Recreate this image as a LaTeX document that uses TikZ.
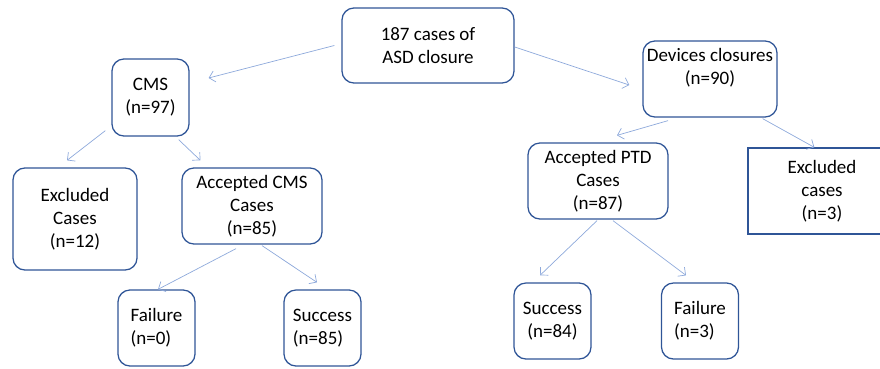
\documentclass[tikz,border=0pt]{standalone}
\usepackage{fontspec}
\setmainfont{Carlito}
\usetikzlibrary{arrows.meta,calc}
\definecolor{boxblue}{HTML}{2F5597}
\definecolor{linkblue}{HTML}{8EA9DB}
\tikzset{
  box/.style={draw=boxblue, line width=0.9pt, rounded corners=0.3cm, align=center,
    inner sep=1pt, font=\fontsize{13.5}{16.5}\selectfont},
  sqbox/.style={box, rounded corners=0pt},
  leaf/.style={box, align=left, minimum width=1.925cm, minimum height=1.9cm},
  link/.style={draw=linkblue, line width=0.5pt, -{Straight Barb[length=4pt,width=8pt]}}
}
\begin{document}
\begin{tikzpicture}[x=0.025cm,y=-0.025cm]
  \useasboundingbox (0,0) rectangle (880,368);

  % top
  \node[box, minimum width=4.3cm, minimum height=1.875cm] (root) at (428,45.5) {187 cases of\\ASD closure};

  % CMS branch
  \node[box, minimum width=1.925cm, minimum height=1.925cm] (cms) at (150.5,97.5) {CMS\\(n=97)};
  \node[box, minimum width=3.1cm, minimum height=2.55cm] (exl) at (75,219) {Excluded\\Cases\\(n=12)};
  \node[box, minimum width=3.5cm, minimum height=1.9cm] (acc) at (252,206) {Accepted CMS\\Cases\\(n=85)};
  \node[leaf] (fl) at (156.5,328) {Failure\\(n=0)};
  \node[leaf] (sl) at (322.5,328) {Success\\(n=85)};

  % device branch
  \node[box, minimum width=3.35cm, minimum height=1.9cm, text depth=18pt] (dev) at (710,79) {Devices closures\\(n=90)};
  \node[box, minimum width=3.5cm, minimum height=1.9cm] (ptd) at (598,181) {Accepted PTD\\Cases\\(n=87)};
  \node[sqbox, minimum width=3.7cm, minimum height=2.15cm] (exr) at (822,191) {Excluded\\cases\\(n=3)};
  \node[leaf, align=center] (sr) at (552.5,321) {Success\\(n=84)};
  \node[leaf] (fr) at (700,321) {Failure\\(n=3)};

  % links
  \draw[link] ($(root.west)+(-7,0)$) -- ($(cms.east)+(19,-19.5)$);
  \draw[link] ($(root.east)+(0,1.5)$) -- ($(dev.west)+(-13,6)$);
  \draw[link] ($(cms.south west)+(-6,-6)$) -- ($(exl.north)+(-8,-7)$);
  \draw[link] ($(cms.south east)+(-11,3)$) -- ($(acc.north west)+(19,-7)$);
  \draw[link] ($(dev.south)+(-42,3)$) -- ($(ptd.north)+(19,-7)$);
  \draw[link] ($(dev.south east)+(-15,1)$) -- ($(exr.north west)+(67,0)$);
  \draw[link] ($(acc.south)+(-16,4)$) -- ($(fl.north)+(1.5,0)$);
  \draw[link] ($(acc.south)+(10,1)$) -- ($(sl.north)+(-5.5,-7)$);
  \draw[link] ($(ptd.south)+(-1,1)$) -- ($(sr.north)+(-12.5,-7)$);
  \draw[link] ($(ptd.south)+(15,1)$) -- ($(fr.north)+(-14,-7)$);
\end{tikzpicture}
\end{document}
